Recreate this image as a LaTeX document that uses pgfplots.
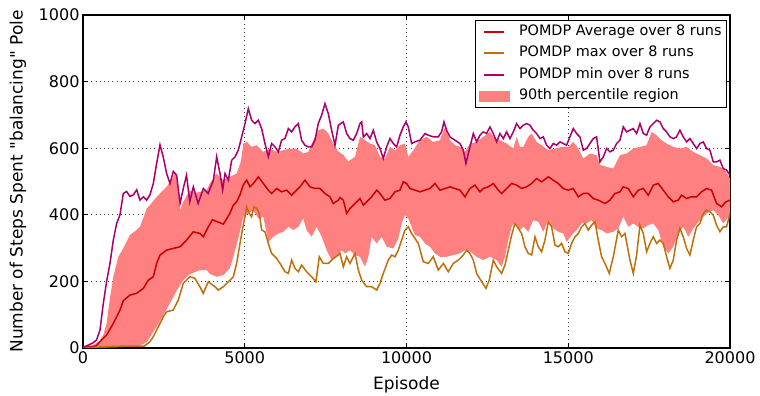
\documentclass[border=0pt]{standalone}
\usepackage{fontspec}
\setmainfont{DejaVu Sans}
\newfontfamily\qfont{DejaVu Sans}
\usepackage{pgfplots}
\pgfplotsset{compat=1.18}
\usepgfplotslibrary{fillbetween}
\definecolor{cavg}{RGB}{204,0,0}
\definecolor{cmax}{RGB}{190,112,8}
\definecolor{cmin}{RGB}{170,0,110}
\definecolor{cfill}{RGB}{255,128,128}
\newcommand{\legline}[1]{\fill[fill=#1, draw=none] (5pt,-1pt) rectangle (25pt,1pt); \path[draw=none, fill=none] (0pt,-5.5pt) rectangle (31pt,5.5pt);}
\begin{document}
\begin{tikzpicture}
\begin{axis}[
  scale only axis, width=647pt, height=333pt,
  xmin=0, xmax=20000, ymin=0, ymax=1000,
  xtick={0,5000,10000,15000,20000}, ytick={0,200,400,600,800,1000},
  scaled x ticks=false, scaled y ticks=false,
  /pgf/number format/1000 sep={},
  /pgf/number format/assume math mode=true,
  tick label style={font=\fontsize{16}{19}\selectfont, text=black},
  label style={font=\fontsize{17}{20}\selectfont},
  xlabel={Episode},
  ylabel={Number of Steps Spent {\qfont"}balancing{\qfont"} Pole},
  xlabel style={at={(axis description cs:0.5,-0.111)}, anchor=center},
  ylabel style={at={(axis description cs:-0.1005,0.5)}, anchor=center},
  grid=major,
  grid style={black!75, line width=0.9pt, dash pattern=on 1pt off 3.2pt},
  axis line style={line width=1.2pt},
  major tick length=5pt,
  tick style={black, line width=1pt},
  legend style={at={(rel axis cs:0.9955,0.985)}, anchor=north east,
    draw=black, line width=0.9pt, fill=white,
    font=\fontsize{14.4}{17}\selectfont,
    inner xsep=4pt, inner ysep=3pt, row sep=5pt, column sep=8pt,
    nodes={inner sep=1pt, text height=11pt, text depth=3.5pt, anchor=west}},
  legend cell align=left,
]
\addplot[draw=none, name path=U, forget plot] coordinates {
(0,2) (300,8) (500,20) (628,40) (730,74) (834,150) (937,214) (1092,274) (1250,300) (1452,340) (1600,350) (1761,364) (1900,400) (1967,419) (2070,429) (2200,445) (2379,464) (2585,484) (2791,514) (2860,530) (2945,470) (2997,414) (3100,439) (3306,474) (3460,465) (3615,469) (3821,474) (3926,495) (4132,524) (4338,504) (4544,514) (4750,524) (4880,560) (4956,614) (5059,619) (5213,604) (5368,609) (5574,589) (5780,599) (5986,589) (6192,594) (6398,599) (6604,599) (6810,584) (6964,589) (7119,624) (7274,654) (7428,659) (7583,644) (7738,614) (7892,590) (8046,580) (8200,560) (8408,574) (8562,634) (8717,624) (8871,614) (9026,609) (9180,574) (9335,569) (9489,604) (9644,594) (9798,609) (9953,614) (10056,574) (10210,594) (10416,624) (10622,634) (10828,619) (11034,624) (11189,664) (11343,624) (11498,609) (11652,604) (11807,589) (11961,614) (12168,619) (12374,634) (12580,649) (12735,629) (12889,624) (13095,614) (13301,599) (13404,634) (13507,604) (13610,604) (13765,634) (13868,644) (14022,619) (14177,609) (14383,594) (14589,599) (14795,604) (15001,604) (15155,619) (15310,599) (15464,569) (15670,584) (15876,579) (15980,550) (16186,544) (16392,539) (16598,579) (16804,584) (17010,599) (17216,604) (17422,609) (17577,649) (17731,639) (17886,624) (18040,614) (18246,604) (18452,599) (18658,604) (18864,589) (19070,579) (19276,569) (19482,549) (19688,544) (19843,534) (20000,509)
};
\addplot[draw=none, name path=L, forget plot] coordinates {
(0,0) (1000,2) (1700,5) (1967,17) (2276,64) (2482,99) (2688,134) (2894,172) (3100,204) (3306,222) (3615,234) (3821,234) (3926,222) (4132,214) (4338,219) (4544,240) (4650,275) (4802,330) (4956,394) (5110,404) (5265,414) (5420,389) (5574,394) (5729,319) (5883,334) (6038,344) (6192,349) (6347,364) (6501,354) (6656,364) (6810,389) (6913,354) (7068,334) (7222,364) (7377,334) (7531,294) (7686,264) (7840,274) (7995,294) (8099,284) (8253,294) (8408,279) (8562,274) (8717,244) (8820,274) (8922,334) (9077,314) (9232,334) (9386,304) (9592,299) (9747,329) (9850,374) (9953,399) (10056,389) (10159,364) (10262,339) (10416,334) (10571,314) (10725,304) (10880,284) (11034,274) (11240,274) (11446,279) (11652,284) (11807,294) (11961,290) (12168,274) (12374,264) (12580,274) (12786,264) (12940,244) (13044,274) (13147,324) (13250,364) (13353,379) (13507,354) (13610,364) (13765,349) (13919,384) (14074,379) (14228,349) (14383,384) (14537,359) (14692,349) (14846,344) (14949,319) (15104,339) (15258,354) (15413,374) (15567,374) (15722,384) (15876,359) (16030,354) (16186,344) (16392,349) (16547,359) (16701,394) (16856,364) (17010,374) (17165,364) (17319,359) (17474,369) (17628,374) (17783,354) (17937,304) (18092,284) (18246,304) (18401,344) (18555,364) (18710,334) (18864,359) (19070,384) (19276,404) (19482,414) (19637,399) (19791,374) (20000,399)
};
\addplot[fill=cfill, draw=none, forget plot] fill between[of=U and L];

\addplot[cavg, line width=1.5pt, forget plot] coordinates {
(0,2) (200,4) (400,6) (525,19) (730,39) (937,74) (1143,114) (1246,142) (1452,159) (1658,164) (1864,179) (2020,204) (2173,214) (2276,254) (2380,279) (2585,294) (2790,299) (2997,304) (3203,324) (3409,349) (3615,344) (3718,334) (3873,364) (4000,385) (4130,380) (4340,372) (4544,405) (4647,429) (4750,439) (4853,460) (4956,490) (5059,504) (5162,484) (5265,494) (5420,514) (5574,494) (5729,474) (5832,464) (5986,479) (6141,469) (6295,474) (6450,459) (6604,474) (6707,484) (6862,504) (7016,484) (7171,479) (7325,479) (7480,464) (7634,454) (7737,434) (7892,444) (7944,452) (8047,444) (8150,404) (8253,419) (8408,434) (8562,449) (8665,429) (8768,439) (8922,454) (9077,474) (9180,464) (9334,444) (9489,449) (9643,469) (9798,474) (9901,499) (10004,494) (10107,479) (10262,474) (10416,469) (10571,474) (10725,479) (10880,494) (11034,474) (11189,479) (11343,484) (11498,479) (11652,474) (11807,454) (11961,479) (12116,489) (12271,469) (12374,479) (12529,484) (12683,494) (12837,474) (12940,464) (13095,479) (13250,494) (13404,489) (13559,479) (13713,484) (13868,494) (14022,509) (14177,499) (14383,514) (14537,504) (14692,494) (14846,479) (15001,474) (15155,479) (15310,454) (15464,464) (15619,464) (15773,449) (15928,444) (16135,434) (16289,444) (16443,464) (16598,469) (16701,484) (16856,479) (17010,454) (17165,474) (17319,479) (17474,459) (17628,489) (17783,494) (17937,474) (18092,454) (18246,439) (18401,444) (18504,459) (18658,449) (18813,454) (18967,454) (19122,469) (19276,479) (19431,474) (19585,434) (19740,424) (19874,439) (20000,444)
};
\addplot[cmax, line width=1.5pt, forget plot] coordinates {
(0,0) (500,3) (1000,5) (1500,6) (1900,6) (2070,19) (2173,34) (2380,74) (2483,94) (2585,109) (2790,114) (2945,144) (3100,194) (3306,214) (3460,209) (3615,184) (3718,164) (3873,199) (3990,190) (4080,184) (4183,174) (4338,184) (4493,199) (4647,214) (4750,254) (4853,314) (4925,354) (5008,394) (5059,424) (5141,404) (5213,394) (5286,424) (5368,419) (5450,404) (5523,354) (5626,349) (5729,314) (5832,284) (5986,269) (6089,254) (6244,229) (6347,224) (6450,264) (6553,239) (6656,229) (6759,249) (6913,229) (7068,214) (7201,199) (7304,274) (7428,254) (7583,254) (7738,269) (7892,279) (7944,284) (8047,244) (8150,274) (8253,254) (8408,284) (8511,234) (8614,204) (8768,184) (8922,184) (9077,174) (9180,194) (9283,224) (9438,264) (9541,279) (9644,274) (9747,294) (9850,324) (9953,354) (10056,364) (10159,344) (10262,329) (10365,314) (10519,259) (10674,254) (10828,274) (10983,234) (11138,254) (11292,229) (11446,254) (11601,264) (11755,279) (11858,294) (11961,284) (12065,264) (12168,224) (12323,199) (12456,179) (12559,204) (12683,264) (12786,244) (12940,224) (13044,249) (13147,294) (13250,339) (13353,374) (13456,359) (13559,344) (13662,304) (13765,284) (13868,279) (13971,334) (14074,304) (14177,289) (14280,324) (14383,379) (14486,364) (14589,309) (14692,304) (14795,314) (14898,289) (15001,284) (15104,314) (15207,334) (15310,344) (15413,364) (15516,374) (15619,354) (15722,369) (15825,379) (15928,324) (16030,274) (16135,254) (16268,224) (16392,274) (16547,354) (16650,334) (16753,344) (16907,264) (17010,224) (17113,279) (17216,369) (17319,344) (17422,289) (17525,314) (17628,334) (17731,314) (17834,324) (17937,314) (18040,274) (18143,239) (18246,264) (18349,324) (18452,359) (18555,334) (18658,299) (18761,279) (18864,324) (18967,364) (19070,374) (19173,404) (19276,414) (19379,409) (19482,399) (19585,369) (19688,349) (19791,364) (19894,364) (20000,404)
};
\addplot[cmin, line width=1.5pt, forget plot] coordinates {
(0,2) (150,8) (300,15) (420,24) (525,54) (628,134) (730,200) (834,254) (937,324) (1040,374) (1143,400) (1246,464) (1350,470) (1450,455) (1555,460) (1660,475) (1760,444) (1864,454) (1967,444) (2070,460) (2173,494) (2276,554) (2380,610) (2480,574) (2585,524) (2690,494) (2790,530) (2894,519) (3000,434) (3100,479) (3200,519) (3300,439) (3410,484) (3560,434) (3720,479) (3870,464) (4030,504) (4132,574) (4235,524) (4317,474) (4390,524) (4493,504) (4596,564) (4700,574) (4800,594) (4905,634) (5008,674) (5110,719) (5213,684) (5316,674) (5420,684) (5520,659) (5626,614) (5730,574) (5830,614) (5935,604) (6037,589) (6140,624) (6243,629) (6346,659) (6450,649) (6550,664) (6655,674) (6758,624) (6860,609) (6964,604) (7067,604) (7170,624) (7273,674) (7376,699) (7480,734) (7583,704) (7686,654) (7790,609) (7893,669) (8047,679) (8150,644) (8253,629) (8356,624) (8459,644) (8562,674) (8614,679) (8665,634) (8768,644) (8871,629) (8974,654) (9077,619) (9180,599) (9283,569) (9386,604) (9489,629) (9592,614) (9695,604) (9798,639) (9901,664) (9983,679) (10055,664) (10159,614) (10262,619) (10416,624) (10571,644) (10674,639) (10828,634) (10983,634) (11086,649) (11158,679) (11240,654) (11343,634) (11498,624) (11652,614) (11755,594) (11837,554) (11910,584) (12013,624) (12065,644) (12168,619) (12271,639) (12374,649) (12477,644) (12580,664) (12683,644) (12786,619) (12889,644) (12992,629) (13095,649) (13198,629) (13301,649) (13404,674) (13507,659) (13610,669) (13713,674) (13816,669) (13919,654) (14022,644) (14125,629) (14228,634) (14331,609) (14434,599) (14537,614) (14640,609) (14743,619) (14846,614) (14949,609) (15052,634) (15155,659) (15258,644) (15361,634) (15464,594) (15567,599) (15670,614) (15773,629) (15876,634) (15979,559) (16083,574) (16186,599) (16289,589) (16392,594) (16495,614) (16598,624) (16701,664) (16804,649) (16907,654) (17010,659) (17113,644) (17216,674) (17319,644) (17422,639) (17525,664) (17628,674) (17731,684) (17834,679) (17937,659) (18040,649) (18143,634) (18246,629) (18349,634) (18452,654) (18555,634) (18658,619) (18761,629) (18864,614) (18967,599) (19070,614) (19173,619) (19276,599) (19379,594) (19482,559) (19585,559) (19688,564) (19791,539) (19894,534) (20000,519)
};
\addlegendimage{legend image code/.code={\legline{cavg}}}
\addlegendimage{legend image code/.code={\legline{cmax}}}
\addlegendimage{legend image code/.code={\legline{cmin}}}
\addlegendimage{legend image code/.code={\fill[fill=cfill, draw=none] (0pt,-5.5pt) rectangle (31pt,5.5pt);}}
\legend{POMDP Average over 8 runs, POMDP max over 8 runs, POMDP min over 8 runs, 90th percentile region}
\end{axis}
\pgfresetboundingbox
\path[use as bounding box] (current axis.south west) ++(-83pt,-48pt) rectangle ++(760pt,396pt);
\end{tikzpicture}
\end{document}
